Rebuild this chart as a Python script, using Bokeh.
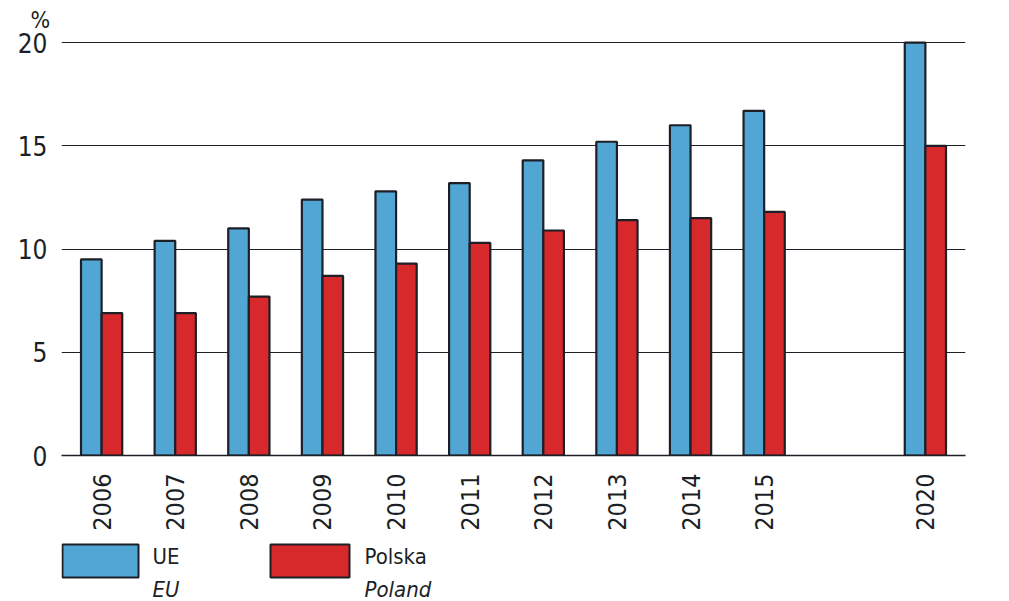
from bokeh.plotting import figure
from bokeh.models import ColumnDataSource, FactorRange, Range1d, FixedTicker
from bokeh.transform import dodge
from bokeh.layouts import column
from bokeh.embed import file_html
from bokeh.resources import INLINE
from bokeh.core.properties import value

# ---- data ----
years = ["2006", "2007", "2008", "2009", "2010", "2011", "2012", "2013", "2014", "2015", "2020"]
groups = ["a"] * 10 + ["b"]
eu = [9.5, 10.4, 11.0, 12.4, 12.8, 13.2, 14.3, 15.2, 16.0, 16.7, 20.0]
pl = [6.9, 6.9, 7.7, 8.7, 9.3, 10.3, 10.9, 11.4, 11.5, 11.8, 15.0]
y_ticks = [0, 5, 10, 15, 20]
legend_main = ["UE", "Polska"]
legend_sub = ["EU", "Poland"]

FONT = "'Liberation Sans Narrow', 'DejaVu Sans Condensed', sans-serif"
BLUE = "#52a6d4"
RED = "#d7282c"
DARK = "#1c1f26"

factors = list(zip(groups, years))
src = ColumnDataSource(dict(x=factors, eu=eu, pl=pl))

xr = FactorRange(*factors, group_padding=1.19, range_padding=0.045, range_padding_units="absolute")
p = figure(width=1009, height=533, x_range=xr, y_range=Range1d(0, 20.3),
           output_backend="svg", toolbar_location=None,
           min_border_left=61, min_border_right=44, min_border_top=36, min_border_bottom=78)
p.outline_line_color = None
p.background_fill_color = "white"

# unit label "%" as the title, pulled left over the value axis
p.title.text = "%"
p.title.align = "left"
p.title.offset = -31
p.title.standoff = 8
p.title.text_font = FONT
p.title.text_font_size = "23px"
p.title.text_font_style = "normal"
p.title.text_color = DARK

p.vbar(x=dodge("x", -0.14, range=p.x_range), top="eu", width=0.28, source=src,
       fill_color=BLUE, line_color=DARK, line_width=2.2)
p.vbar(x=dodge("x", 0.14, range=p.x_range), top="pl", width=0.28, source=src,
       fill_color=RED, line_color=DARK, line_width=2.2)

# y axis
p.yaxis.ticker = FixedTicker(ticks=y_ticks)
p.yaxis.axis_line_color = None
p.yaxis.major_tick_line_color = None
p.yaxis.minor_tick_line_color = None
p.yaxis.major_label_standoff = 8
p.yaxis.major_label_text_font = FONT
p.yaxis.major_label_text_font_size = "26px"
p.yaxis.major_label_text_color = DARK
p.ygrid.ticker = FixedTicker(ticks=y_ticks)
p.ygrid.grid_line_color = DARK
p.ygrid.grid_line_width = 1
p.xgrid.grid_line_color = None

# x axis
p.xaxis.axis_line_color = DARK
p.xaxis.axis_line_width = 1.5
p.xaxis.major_tick_line_color = None
p.xaxis.minor_tick_line_color = None
p.xaxis.major_label_orientation = 1.5707963
p.xaxis.major_label_standoff = 12
p.xaxis.major_label_text_font = FONT
p.xaxis.major_label_text_font_size = "25px"
p.xaxis.major_label_text_color = DARK
p.xaxis.group_text_font_size = "0px"
p.xaxis.group_text_color = None
p.xaxis.separator_line_color = None

# legend strip (frame aligned with the chart's frame: page x 61..965, page y 533..601)
lg = figure(width=1009, height=68, x_range=Range1d(61, 965), y_range=Range1d(601, 533),
            output_backend="svg", toolbar_location=None, min_border=0)
lg.axis.visible = False
lg.grid.visible = False
lg.outline_line_color = None
lg.quad(left=[62, 270], right=[138, 349], top=[544, 544], bottom=[577, 577],
        fill_color=[BLUE, RED], line_color=DARK, line_width=2)
lg.text(x=[152, 364], y=[556, 556], text=legend_main, text_font=value(FONT),
        text_font_size="22px", text_color=DARK, text_baseline="alphabetic")
lg.text(x=[152, 364], y=[589, 589], text=legend_sub, text_font=value(FONT),
        text_font_size="22px", text_font_style="italic", text_color=DARK,
        text_baseline="alphabetic")

layout = column(p, lg, spacing=0)
open("out.html", "w").write(file_html(layout, INLINE))
